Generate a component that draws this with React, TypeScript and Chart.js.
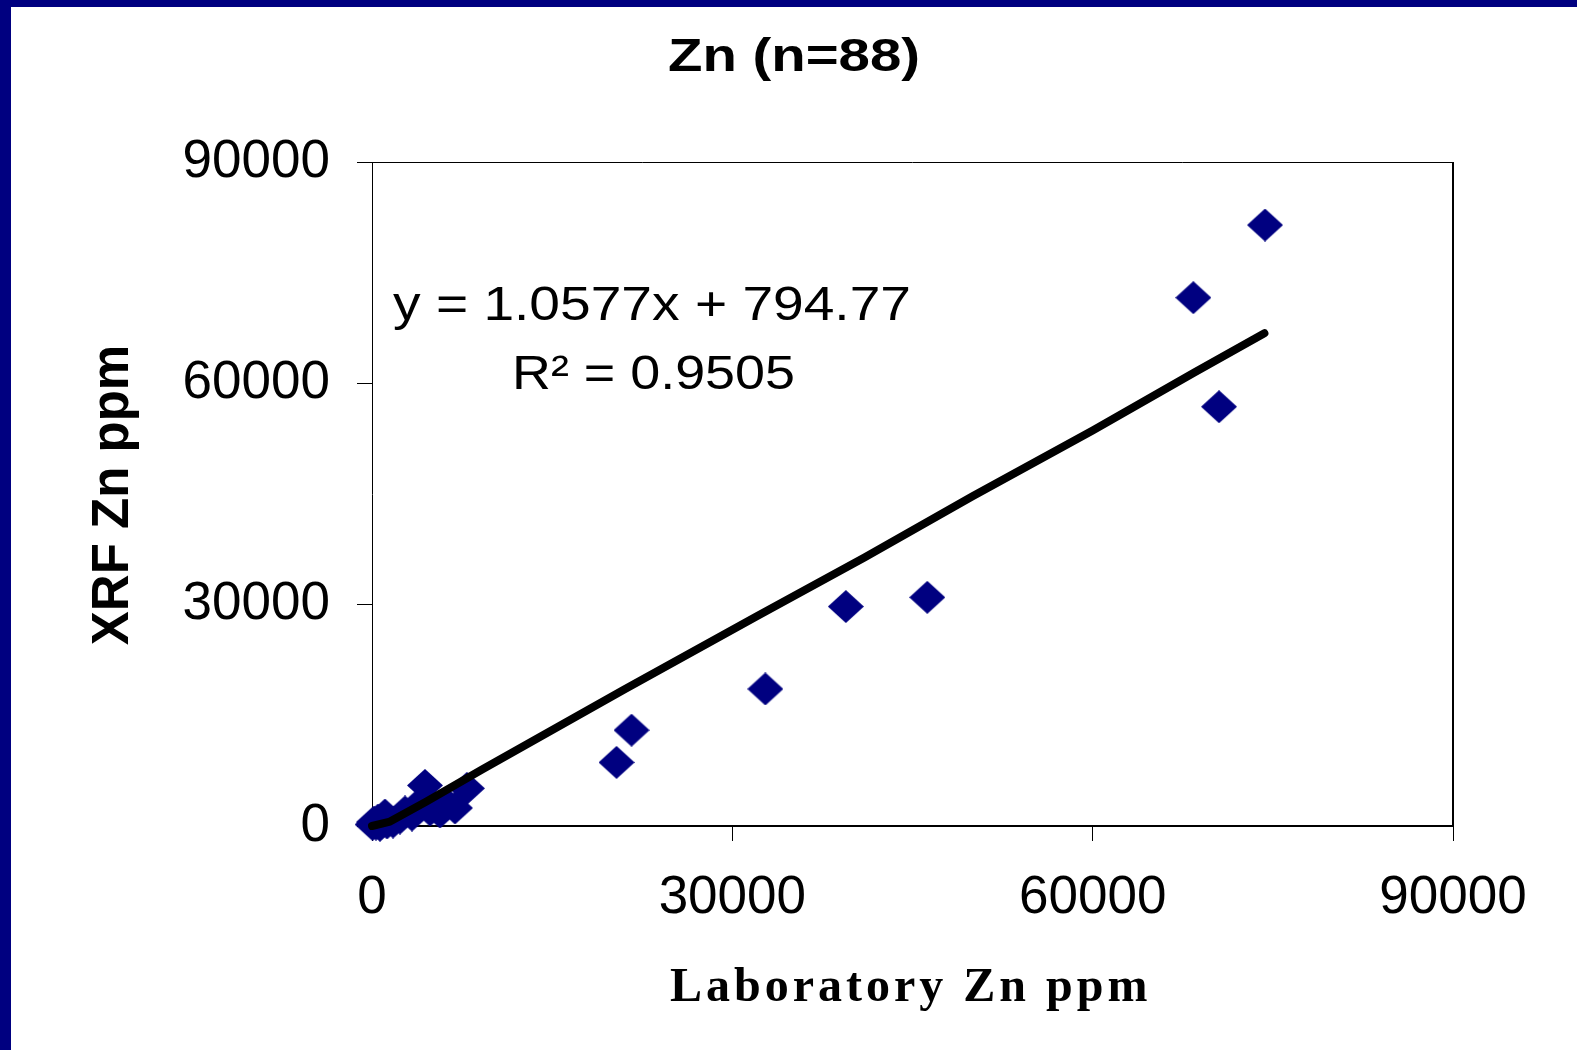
import React, { useEffect, useRef } from 'react';
import { Chart, registerables } from 'chart.js';

Chart.register(...registerables);

// ---- data ----
const labZn = [
  74350, 68380, 70520, 46230, 39450, 32750, 21610, 20360,
  170, 666, 1250, 1750, 2330, 2750, 3330, 3830, 4410, 4830, 5660, 6250, 6910, 7900, 1080, 50, 330, 500,
];
const xrfZn = [
  81460, 71610, 56830, 30990, 29750, 18570, 12990, 8620,
  540, 100, 410, 540, 1080, 1900, 1490, 2850, 5500, 2170, 1900, 2980, 2440, 5100, 1490, 200, 270, 810,
];
const trendLabZn = [0, 1500, 4500, 9200, 21000, 32000, 41000, 50000, 60000, 68500, 74300];
const trendXrfZn = [0, 600, 3300, 7700, 18500, 28400, 36400, 44700, 53600, 61500, 66800];
const axisTicks = [0, 30000, 60000, 90000];

const titleText = 'Zn (n=88)';
const xTitleText = 'Laboratory Zn ppm';
const yTitleText = 'XRF Zn ppm';
const eqLine1 = 'y = 1.0577x + 794.77';
const eqLine2 = 'R\u00B2 = 0.9505';

const SANS = '"Liberation Sans", Arial, sans-serif';
const SERIF = '"Liberation Serif", "Times New Roman", serif';
const NAVY = '#000080';

function makeDiamond(w: number, h: number, color: string) {
  const c = document.createElement('canvas');
  c.width = w;
  c.height = h;
  const g = c.getContext('2d')!;
  g.fillStyle = color;
  g.beginPath();
  g.moveTo(w / 2, 0);
  g.lineTo(w, h / 2);
  g.lineTo(w / 2, h);
  g.lineTo(0, h / 2);
  g.closePath();
  g.fill();
  return c;
}

function drawStretched(
  ctx: CanvasRenderingContext2D,
  text: string,
  left: number,
  baseline: number,
  font: string,
  targetW: number,
) {
  ctx.save();
  ctx.font = font;
  ctx.textAlign = 'left';
  ctx.textBaseline = 'alphabetic';
  const w = ctx.measureText(text).width;
  ctx.translate(left, baseline);
  ctx.scale(targetW / w, 1);
  ctx.fillStyle = '#000';
  ctx.fillText(text, 0, 0);
  ctx.restore();
}

const decorPlugin = {
  id: 'decor',
  beforeDraw(chart: any) {
    const ctx = chart.ctx as CanvasRenderingContext2D;
    ctx.save();
    ctx.fillStyle = '#fff';
    ctx.fillRect(0, 0, chart.width, chart.height);
    ctx.fillStyle = NAVY;
    ctx.fillRect(0, 0, chart.width, 7);
    ctx.fillRect(0, 0, 11, chart.height);
    ctx.restore();
  },
  afterDraw(chart: any) {
    const ctx = chart.ctx as CanvasRenderingContext2D;
    const a = chart.chartArea;
    ctx.save();
    ctx.strokeStyle = '#000';
    ctx.lineWidth = 1;
    ctx.beginPath();
    ctx.moveTo(a.left, a.top + 0.5);
    ctx.lineTo(a.right, a.top + 0.5);
    ctx.stroke();
    ctx.lineWidth = 2;
    ctx.beginPath();
    ctx.moveTo(a.right, a.top);
    ctx.lineTo(a.right, a.bottom);
    ctx.stroke();
    ctx.restore();

    // title
    drawStretched(ctx, titleText, 668, 71, `bold 47px ${SANS}`, 252);
    // equation
    drawStretched(ctx, eqLine1, 393, 320, `49px ${SANS}`, 518);
    drawStretched(ctx, eqLine2, 512, 389, `49px ${SANS}`, 283);

    // x axis title
    ctx.save();
    ctx.font = `bold 48px ${SERIF}`;
    (ctx as any).letterSpacing = '4px';
    ctx.fillStyle = '#000';
    ctx.textAlign = 'left';
    ctx.textBaseline = 'alphabetic';
    ctx.fillText(xTitleText, 670, 1001);
    ctx.restore();

    // y axis title
    ctx.save();
    ctx.font = `bold 51px ${SANS}`;
    ctx.fillStyle = '#000';
    ctx.textAlign = 'center';
    ctx.textBaseline = 'alphabetic';
    ctx.translate(128, 495);
    ctx.rotate(-Math.PI / 2);
    ctx.fillText(yTitleText, 0, 0);
    ctx.restore();
  },
};

export default function App() {
  const ref = useRef<HTMLCanvasElement | null>(null);

  useEffect(() => {
    if (!ref.current) return;
    const diamond = makeDiamond(36, 33, NAVY);
    const tickFont = { family: SANS, size: 53 };
    const setTicks = (scale: any) => {
      scale.ticks = axisTicks.map((v) => ({ value: v }));
    };
    const chart = new Chart(ref.current, {
      type: 'scatter',
      data: {
        datasets: [
          {
            label: 'Linear (trend)',
            type: 'line',
            data: trendLabZn.map((x, i) => ({ x, y: trendXrfZn[i] })),
            borderColor: '#000',
            backgroundColor: '#000',
            borderWidth: 8,
            borderCapStyle: 'round',
            borderJoinStyle: 'round',
            pointRadius: 0,
            fill: false,
            tension: 0,
            clip: false as any,
          } as any,
          {
            label: 'Zn',
            data: labZn.map((x, i) => ({ x, y: xrfZn[i] })),
            pointStyle: diamond as any,
            pointRadius: 17,
            backgroundColor: NAVY,
            borderColor: NAVY,
            clip: false as any,
          } as any,
        ],
      },
      options: {
        animation: false,
        responsive: false,
        maintainAspectRatio: false,
        layout: { padding: { top: 162, right: 124, left: 0, bottom: 0 } },
        plugins: {
          legend: { display: false },
          tooltip: { enabled: false },
          title: { display: false },
        },
        scales: {
          x: {
            type: 'linear',
            min: 0,
            max: 90000,
            afterBuildTicks: setTicks,
            afterFit: (s: any) => {
              s.height = 224;
            },
            ticks: {
              font: tickFont,
              color: '#000',
              padding: 26,
              maxRotation: 0,
              callback: (v: any) => String(v),
            },
            grid: {
              drawOnChartArea: false,
              drawTicks: true,
              tickLength: 15,
              color: '#000',
              lineWidth: 1,
            },
            border: { color: '#000', width: 2 },
          },
          y: {
            type: 'linear',
            min: 0,
            max: 90000,
            afterBuildTicks: setTicks,
            afterFit: (s: any) => {
              s.width = 372;
            },
            ticks: {
              font: tickFont,
              color: '#000',
              padding: 27,
              callback: (v: any) => String(v),
            },
            grid: {
              drawOnChartArea: false,
              drawTicks: true,
              tickLength: 15,
              color: '#000',
              lineWidth: 1,
            },
            border: { color: '#000', width: 1 },
          },
        },
      } as any,
      plugins: [decorPlugin],
    });
    return () => chart.destroy();
  }, []);

  return (
    <div style={{ position: 'fixed', left: 0, top: 0, width: 1577, height: 1050, background: '#fff' }}>
      <canvas ref={ref} width={1577} height={1050} style={{ display: 'block' }} />
    </div>
  );
}
